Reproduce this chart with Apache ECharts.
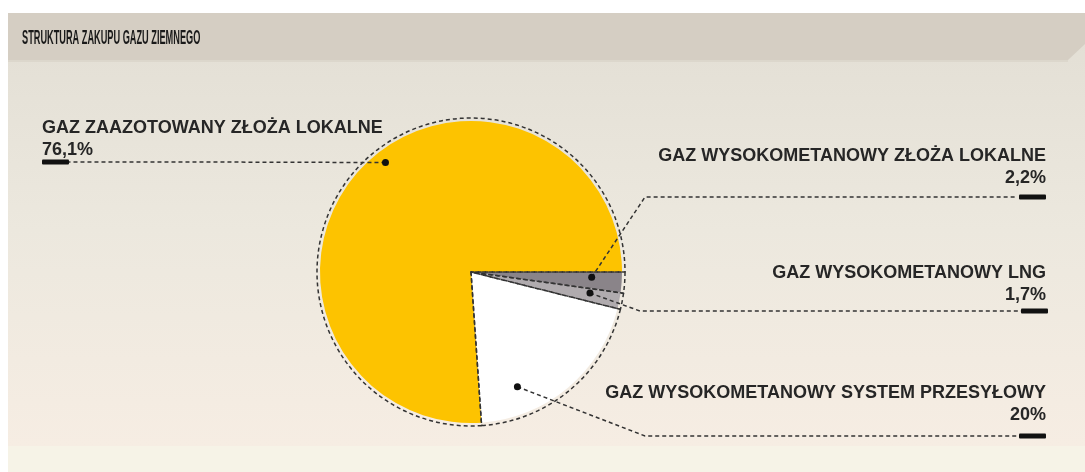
<!DOCTYPE html>
<html>
<head>
<meta charset="utf-8">
<script src="https://cdn.jsdelivr.net/npm/echarts@6/dist/echarts.min.js"></script>
<style>
    html, body { margin: 0; padding: 0; background: #ffffff; }
    #chart { width: 1085px; height: 472px; }
</style>
</head>
<body>
<div id="chart"></div>
<script>
// dane wykresu (kolejnosc: zgodnie z ruchem wskazowek zegara od godziny 3)
var categories = [
    'GAZ WYSOKOMETANOWY ZŁOŻA LOKALNE',
    'GAZ WYSOKOMETANOWY LNG',
    'GAZ WYSOKOMETANOWY SYSTEM PRZESYŁOWY',
    'GAZ ZAAZOTOWANY ZŁOŻA LOKALNE'
];
var values = [2.2, 1.7, 20, 76.1];
var valueLabels = ['2,2%', '1,7%', '20%', '76,1%'];
var titleText = 'STRUKTURA ZAKUPU GAZU ZIEMNEGO';

// kolory wycinkow
var colors = ['#8a8489', '#b0abae', '#ffffff', '#fdc300'];

// rozmieszczenie opisow (px)
var CX = 471, CY = 272, R = 151;
var labelPos = [[1046, 145, 'right'], [1046, 262, 'right'], [1046, 382, 'right'], [42, 117, 'left']];
var barPos = [[1046, 197, 'right'], [1048, 311, 'right'], [1046, 436, 'right'], [42, 162, 'left']];
var dotAnchor = [[-2.5, 0.80], [-10, 0.80], [-68, 0.82], [128, 0.92]];   // [kat, ulamek promienia]
var lineBend = [[645, 197], [640, 311], [645, 436], [200, 162]];
var lineEnd = [[1017, 197], [1021, 311], [1018, 436], [62, 162]];

function dotXY(i) {
    var a = dotAnchor[i][0] * Math.PI / 180;
    var r = dotAnchor[i][1] * R;
    return [CX + r * Math.cos(a), CY - r * Math.sin(a)];
}

var pieData = categories.map(function (name, i) {
    return { name: name, value: values[i], itemStyle: { color: colors[i] } };
});
var plainData = categories.map(function (name, i) {
    return { name: name, value: values[i] };
});

var textFont = "'Liberation Sans', Arial, sans-serif";
var dashColor = '#333333';

var chartDom = document.getElementById('chart');
var myChart = echarts.init(chartDom, null, { renderer: 'canvas' });

// wspolne ustawienia dla nakladanych serii kolowych
function overlayPie(extra) {
    var base = {
        type: 'pie',
        z: 5,
        center: [CX, CY],
        radius: R,
        startAngle: 0,
        clockwise: true,
        silent: true,
        avoidLabelOverlap: false,
        emphasis: { disabled: true },
        data: plainData,
        itemStyle: { color: 'transparent', borderWidth: 0 },
        labelLine: { show: false }
    };
    return Object.assign(base, extra);
}

var option = {
    animation: false,
    backgroundColor: '#ffffff',
    graphic: [
        {
            type: 'rect', z: -10, silent: true,
            shape: { x: 8, y: 13, width: 1077, height: 433 },
            style: {
                fill: new echarts.graphic.LinearGradient(0, 0, 0, 1, [
                    { offset: 0, color: '#e2ded4' },
                    { offset: 0.5, color: '#ece8de' },
                    { offset: 1, color: '#f6ede3' }
                ])
            }
        },
        {
            type: 'rect', z: -10, silent: true,
            shape: { x: 8, y: 446, width: 1077, height: 26 },
            style: { fill: '#f6f3e7' }
        },
        {
            type: 'polygon', z: -9, silent: true,
            shape: { points: [[8, 13], [1085, 13], [1085, 44], [1068, 60], [8, 60]] },
            style: { fill: '#d5cec3' }
        },
        {
            type: 'rect', z: -9, silent: true,
            shape: { x: 8, y: 60, width: 1060, height: 2 },
            style: { fill: '#dcd7cc' }
        },
        {
            type: 'text', z: 10, silent: true,
            x: 22, y: 38, scaleX: 0.46, scaleY: 1,
            style: {
                text: titleText,
                x: 0, y: 0,
                fill: '#1a1a1a',
                font: "bold 20px 'Liberation Sans', Arial, sans-serif",
                verticalAlign: 'middle'
            }
        }
    ],
    series: [
        {
            // same wycinki
            type: 'pie',
            z: 1,
            center: [CX, CY],
            radius: R,
            startAngle: 0,
            clockwise: true,
            silent: true,
            emphasis: { disabled: true },
            itemStyle: { borderWidth: 0 },
            data: pieData,
            label: { show: false },
            labelLine: { show: false }
        },
        overlayPie({
            // przerywany obrys + opisy z liniami
            radius: R + 3,
            itemStyle: {
                color: 'transparent',
                borderColor: dashColor,
                borderWidth: 1.5,
                borderType: [4, 3]
            },
            label: {
                show: true,
                formatter: function (p) {
                    return '{n|' + p.name + '}\n{v|' + valueLabels[p.dataIndex] + '}';
                },
                rich: {
                    n: { fontSize: 18, fontWeight: 'bold', color: '#262626', lineHeight: 22, fontFamily: textFont },
                    v: { fontSize: 18, fontWeight: 'bold', color: '#262626', lineHeight: 22, fontFamily: textFont }
                }
            },
            labelLine: {
                show: true,
                lineStyle: { color: dashColor, width: 1.5, type: [4, 3] }
            },
            labelLayout: function (params) {
                var i = params.dataIndex;
                var p = labelPos[i];
                return {
                    x: p[0], y: p[1], align: p[2], verticalAlign: 'top',
                    labelLinePoints: [dotXY(i), lineBend[i], lineEnd[i]]
                };
            }
        }),
        overlayPie({
            // kropki na wycinkach
            z: 6,
            label: {
                show: true,
                formatter: '{d| }',
                rich: { d: { width: 7, height: 7, lineHeight: 7, borderRadius: 4, backgroundColor: '#111111' } }
            },
            labelLayout: function (params) {
                var pt = dotXY(params.dataIndex);
                return { x: pt[0], y: pt[1], align: 'center', verticalAlign: 'middle' };
            }
        }),
        overlayPie({
            // czarne belki pod wartosciami
            z: 6,
            label: {
                show: true,
                formatter: '{b| }',
                rich: { b: { width: 27, height: 5, lineHeight: 5, borderRadius: 1, backgroundColor: '#111111' } }
            },
            labelLayout: function (params) {
                var b = barPos[params.dataIndex];
                return { x: b[0], y: b[1], align: b[2], verticalAlign: 'middle' };
            }
        })
    ]
};

option && myChart.setOption(option);
</script>
</body>
</html>
